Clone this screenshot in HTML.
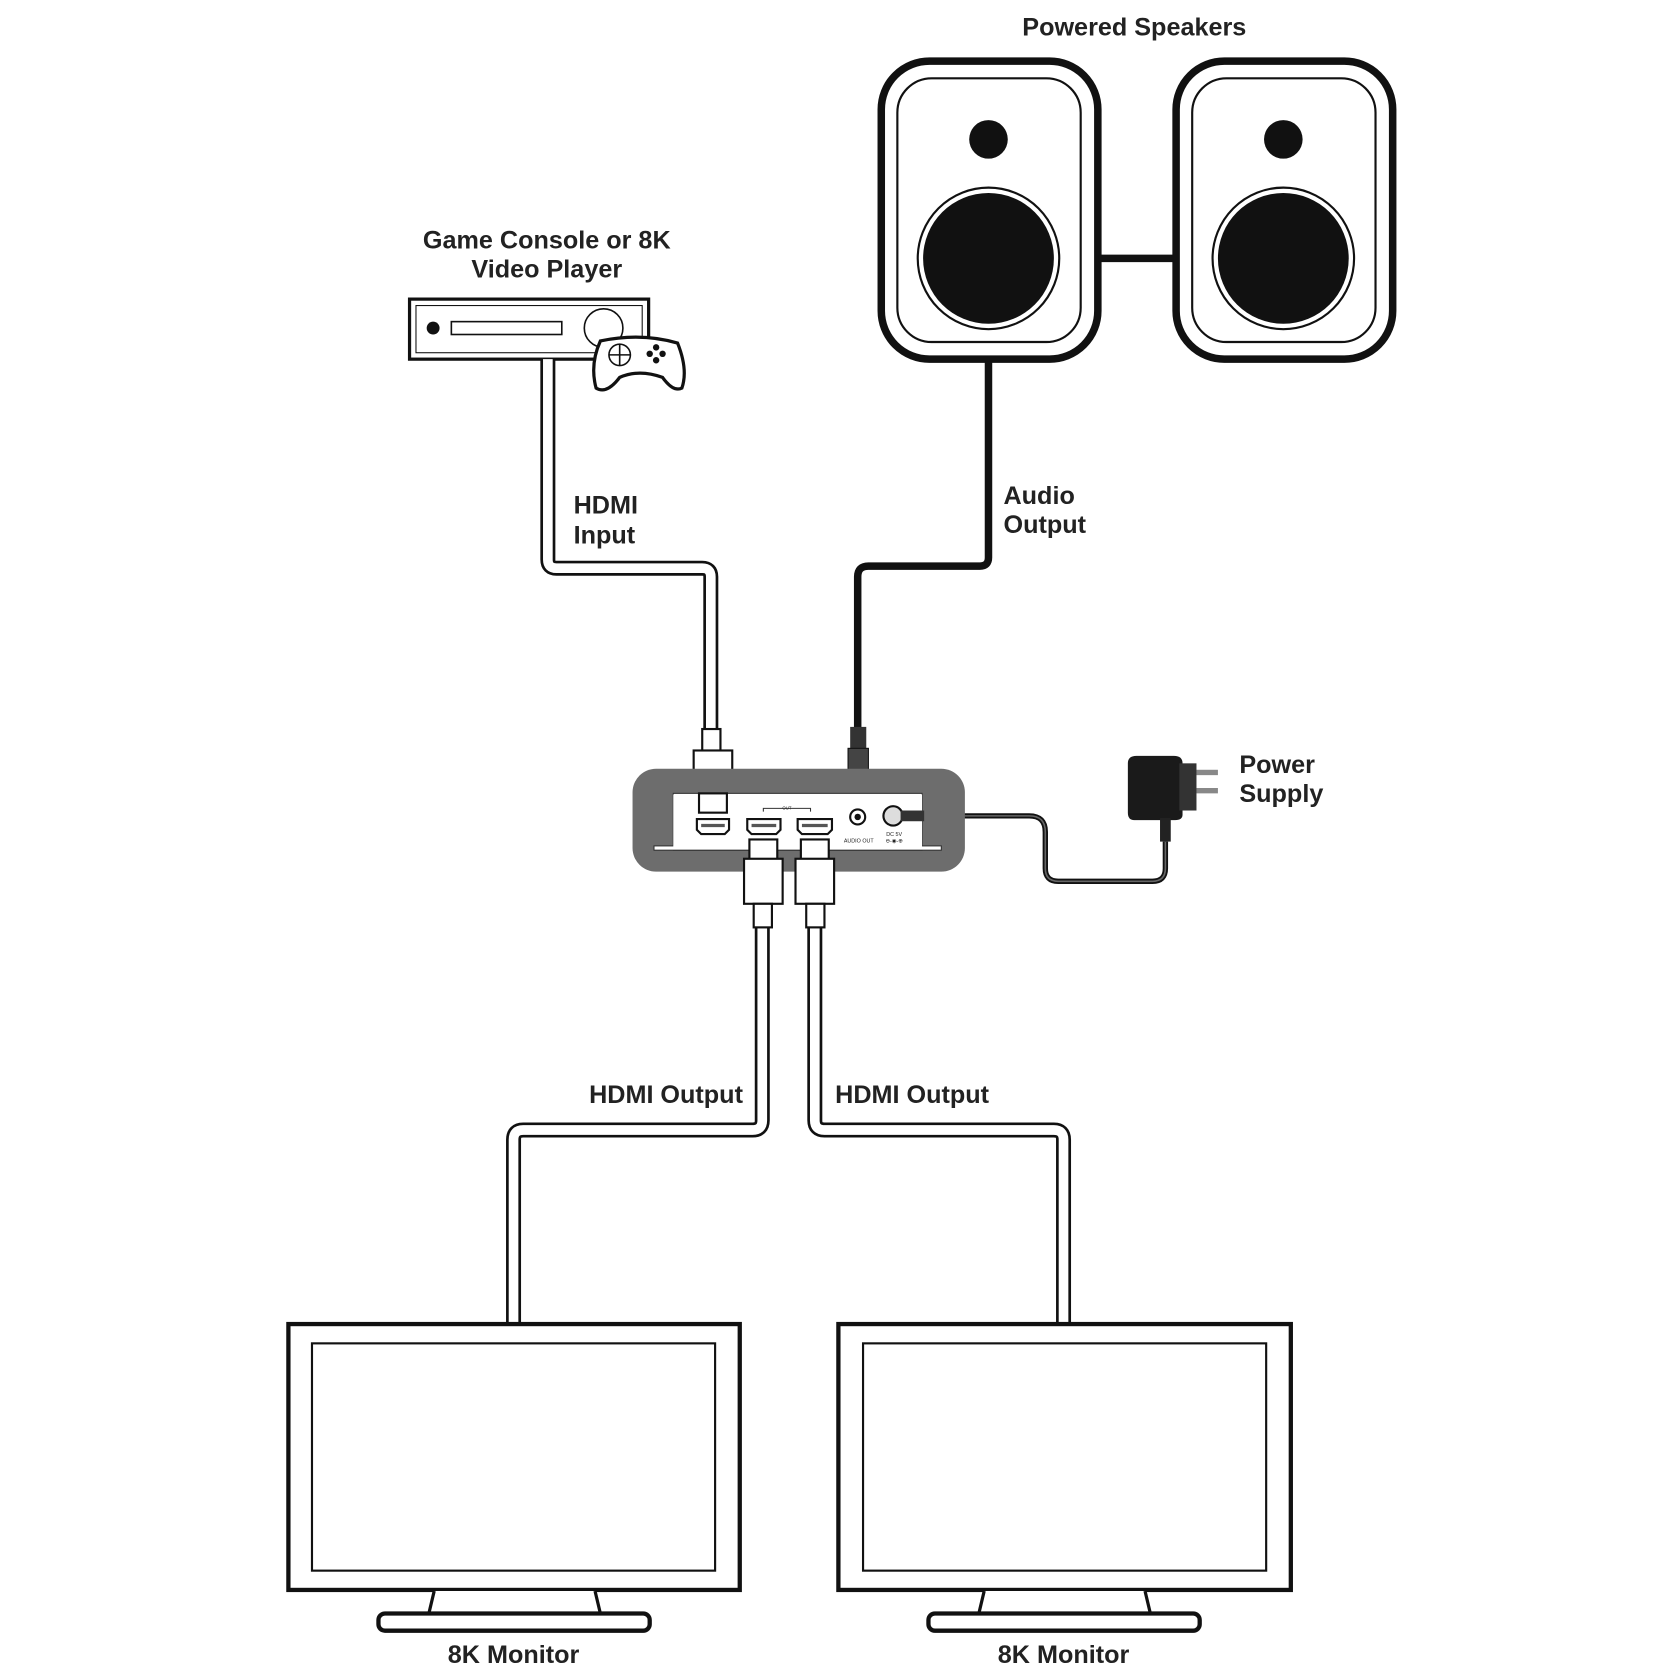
<!DOCTYPE html>
<html><head><meta charset="utf-8"><style>
html,body{margin:0;padding:0;background:#fff;}
svg{display:block;}
text{font-family:"Liberation Sans",sans-serif;font-weight:bold;fill:#222;font-size:23.5px;}
</style></head><body>
<svg width="1680" height="1680" viewBox="0 0 1567 1567" xmlns="http://www.w3.org/2000/svg">
<!-- labels -->
<text x="1058" y="33" text-anchor="middle">Powered Speakers</text>
<text x="510" y="232" text-anchor="middle">Game Console or 8K</text>
<text x="510" y="259" text-anchor="middle">Video Player</text>
<text x="535" y="479">HDMI</text>
<text x="535" y="507">Input</text>
<text x="936" y="470">Audio</text>
<text x="936" y="497">Output</text>
<text x="1156" y="721">Power</text>
<text x="1156" y="748">Supply</text>
<text x="693" y="1029" text-anchor="end">HDMI Output</text>
<text x="779" y="1029">HDMI Output</text>
<text x="479" y="1551" text-anchor="middle">8K Monitor</text>
<text x="992" y="1551" text-anchor="middle">8K Monitor</text>

<!-- speakers -->
<g fill="#fff" stroke="#111">
<rect x="822" y="57" width="202" height="278" rx="45" stroke-width="7"/>
<rect x="837" y="73" width="171" height="246" rx="32" stroke-width="2"/>
<rect x="1097" y="57" width="202" height="278" rx="45" stroke-width="7"/>
<rect x="1112" y="73" width="171" height="246" rx="32" stroke-width="2"/>
<circle cx="922" cy="241" r="66" stroke-width="2"/>
<circle cx="1197" cy="241" r="66" stroke-width="2"/>
</g>
<circle cx="922" cy="130" r="18" fill="#111"/>
<circle cx="1197" cy="130" r="18" fill="#111"/>
<circle cx="922" cy="241" r="61" fill="#111"/>
<circle cx="1197" cy="241" r="61" fill="#111"/>
<line x1="1025" y1="241" x2="1095" y2="241" stroke="#111" stroke-width="7"/>

<!-- audio cable -->
<path d="M922 337 V520 Q922 528 914 528 H810 Q800 528 800 538 V690" fill="none" stroke="#111" stroke-width="7"/>
<rect x="793" y="678" width="15" height="22" fill="#333"/>
<rect x="791" y="698" width="19" height="40" fill="#444" stroke="#111" stroke-width="1"/>
<rect x="797" y="738" width="7" height="14" fill="#999" stroke="#333" stroke-width="1"/>

<!-- game console -->
<rect x="382" y="279" width="223" height="56" fill="#fff" stroke="#111" stroke-width="3"/>
<rect x="388" y="285" width="211" height="44" fill="none" stroke="#111" stroke-width="1"/>
<circle cx="404" cy="306" r="6" fill="#111"/>
<rect x="421" y="300" width="103" height="12" fill="#fff" stroke="#111" stroke-width="1.5"/>
<circle cx="563" cy="306" r="18" fill="#fff" stroke="#111" stroke-width="1.5"/>
<path d="M560 318 Q598 310 632 320 Q642 345 636 362 Q628 366 618 352 Q596 344 578 352 Q566 368 556 362 Q550 340 560 318 Z" fill="#fff" stroke="#111" stroke-width="3"/>
<circle cx="578" cy="331" r="10" fill="none" stroke="#111" stroke-width="1.5"/>
<path d="M578 321 V341 M568 331 H588" stroke="#111" stroke-width="1.5"/>
<circle cx="612" cy="324" r="3" fill="#111"/><circle cx="612" cy="336" r="3" fill="#111"/>
<circle cx="606" cy="330" r="3" fill="#111"/><circle cx="618" cy="330" r="3" fill="#111"/>

<!-- HDMI cables (outlined white) -->
<g fill="none" stroke-linejoin="round">
<path d="M511 335 V522 Q511 530 519 530 H655 Q663 530 663 538 V690" stroke="#111" stroke-width="14"/>
<path d="M511 335 V522 Q511 530 519 530 H655 Q663 530 663 538 V690" stroke="#fff" stroke-width="9"/>
<path d="M711 860 V1045 Q711 1054 702 1054 H488 Q479 1054 479 1063 V1236" stroke="#111" stroke-width="14"/>
<path d="M711 860 V1045 Q711 1054 702 1054 H488 Q479 1054 479 1063 V1236" stroke="#fff" stroke-width="9"/>
<path d="M760 860 V1045 Q760 1054 769 1054 H983 Q992 1054 992 1063 V1236" stroke="#111" stroke-width="14"/>
<path d="M760 860 V1045 Q760 1054 769 1054 H983 Q992 1054 992 1063 V1236" stroke="#fff" stroke-width="9"/>
</g>
<!-- input plug -->
<rect x="655" y="680" width="17" height="22" fill="#fff" stroke="#111" stroke-width="2"/>
<rect x="647" y="700" width="36" height="40" fill="#fff" stroke="#111" stroke-width="2"/>

<!-- power cable -->
<path d="M860 761 H960 Q975 761 975 776 V810 Q975 822 987 822 H1075 Q1087 822 1087 810 V785" fill="none" stroke="#111" stroke-width="5"/>
<path d="M860 761 H960 Q975 761 975 776 V810 Q975 822 987 822 H1075 Q1087 822 1087 810 V785" fill="none" stroke="#666" stroke-width="1.5"/>
<!-- adapter -->
<path d="M1052 712 Q1052 705 1060 705 H1095 Q1103 705 1103 712 V760 Q1103 765 1096 765 H1058 Q1052 765 1052 758 Z" fill="#1a1a1a"/>
<rect x="1100" y="712" width="16" height="44" fill="#333"/>
<rect x="1116" y="718" width="20" height="5" fill="#888"/>
<rect x="1116" y="735" width="20" height="5" fill="#888"/>
<rect x="1082" y="763" width="10" height="22" fill="#222"/>

<!-- device -->
<rect x="590" y="717" width="310" height="96" rx="22" fill="#6d6d6d"/>
<rect x="628" y="740" width="232" height="53" fill="#fff" stroke="#333" stroke-width="1"/>
<rect x="610" y="789" width="268" height="4" fill="#fff" stroke="#333" stroke-width="1"/>
<rect x="628" y="741" width="232" height="50" fill="#fff"/>
<rect x="652" y="740" width="26" height="18" fill="#fff" stroke="#111" stroke-width="2"/>
<g fill="#fff" stroke="#111" stroke-width="2">
<path d="M650 764 H680 V774 L676 778 H654 L650 774 Z"/>
<path d="M697 764 H728 V774 L724 778 H701 L697 774 Z"/>
<path d="M744 764 H776 V774 L772 778 H748 L744 774 Z"/>
</g>
<g fill="none" stroke="#555" stroke-width="3">
<line x1="654" y1="770" x2="676" y2="770"/><line x1="701" y1="770" x2="724" y2="770"/><line x1="748" y1="770" x2="772" y2="770"/>
</g>
<path d="M712 757 V754 H756 V757" fill="none" stroke="#333" stroke-width="1"/>
<text x="734" y="755" text-anchor="middle" style="font-size:4px;font-weight:normal">OUT</text>
<circle cx="800" cy="762" r="7" fill="#fff" stroke="#111" stroke-width="2"/>
<circle cx="800" cy="762" r="3" fill="#111"/>
<text x="801" y="786" text-anchor="middle" style="font-size:5px;font-weight:normal">AUDIO OUT</text>
<circle cx="833" cy="761" r="9" fill="#ddd" stroke="#111" stroke-width="2"/>
<rect x="840" y="756" width="22" height="10" fill="#333"/>
<text x="834" y="780" text-anchor="middle" style="font-size:5px;font-weight:normal">DC 5V</text>
<text x="834" y="786" text-anchor="middle" style="font-size:5px;font-weight:normal">⊖-◉-⊕</text>
<!-- output plugs -->
<g fill="#fff" stroke="#111" stroke-width="2">
<rect x="699" y="783" width="26" height="20"/>
<rect x="694" y="801" width="36" height="42"/>
<rect x="703" y="843" width="17" height="22"/>
<rect x="747" y="783" width="26" height="20"/>
<rect x="742" y="801" width="36" height="42"/>
<rect x="752" y="843" width="17" height="22"/>
</g>

<!-- monitors -->
<g fill="#fff" stroke="#111">
<rect x="269" y="1235" width="421" height="248" stroke-width="4"/>
<rect x="291" y="1253" width="376" height="212" stroke-width="2"/>
<path d="M405 1484 L400 1505 H560 L555 1484" stroke-width="3"/>
<rect x="353" y="1505" width="253" height="16" rx="6" stroke-width="4"/>
<rect x="782" y="1235" width="422" height="248" stroke-width="4"/>
<rect x="805" y="1253" width="376" height="212" stroke-width="2"/>
<path d="M918 1484 L913 1505 H1073 L1068 1484" stroke-width="3"/>
<rect x="866" y="1505" width="253" height="16" rx="6" stroke-width="4"/>
</g>
</svg>
</body></html>
